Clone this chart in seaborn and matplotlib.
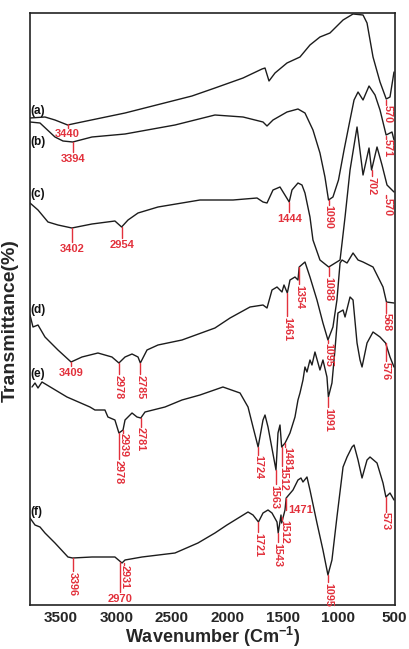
import matplotlib
matplotlib.use("Agg")
import matplotlib.pyplot as plt
import seaborn as sns
import pandas as pd

# ---- data (wavenumber cm-1, transmittance in arbitrary offset units) ----
wn_a = [3779, 3644, 3554, 3440, 3356, 2923, 2320, 2113, 1860, 1689, 1662, 1626, 1572, 1464, 1347, 1257,
        1167, 1077, 959, 869, 779, 743, 689, 626, 570, 536, 500]
t_a = [487, 488, 485, 480, 482, 492, 509, 517, 527, 536, 537, 524, 532, 542, 548, 560,
       568, 572, 585, 591, 590, 582, 548, 523, 506, 508, 533]

wn_b = [3779, 3689, 3554, 3482, 3394, 3221, 2923, 2473, 2113, 1860, 1680, 1644, 1590, 1464, 1365, 1302,
        1230, 1167, 1122, 1090, 1050, 1000, 950, 900, 860, 824, 779, 725, 671, 626, 571, 518, 500]
t_b = [483, 482, 468, 464, 463, 468, 471, 480, 490, 488, 483, 479, 485, 493, 496, 492,
       475, 452, 428, 405, 408, 425, 455, 483, 505, 513, 505, 519, 510, 495, 470, 473, 465]

wn_c = [3779, 3707, 3617, 3527, 3402, 3221, 3014, 2954, 2896, 2806, 2626, 2410, 2248, 1950, 1734, 1680,
        1644, 1590, 1527, 1444, 1419, 1365, 1329, 1302, 1257, 1230, 1167, 1088, 986, 968, 941, 896,
        833, 779, 725, 702, 653, 608, 563, 518, 500]
t_c = [402, 395, 383, 380, 377, 381, 384, 378, 385, 392, 398, 402, 405, 405, 407, 403,
       402, 415, 418, 403, 415, 422, 420, 412, 388, 365, 345, 338, 345, 362, 388, 435,
       478, 430, 457, 435, 458, 440, 420, 415, 413]

wn_d = [3779, 3752, 3707, 3644, 3527, 3409, 3311, 3167, 3041, 2978, 2923, 2860, 2806, 2785, 2725, 2626,
        2410, 2113, 1977, 1797, 1680, 1644, 1599, 1554, 1509, 1491, 1461, 1437, 1392, 1365, 1354, 1302,
        1257, 1194, 1140, 1095, 1050, 1014, 986, 968, 923, 869, 824, 779, 689, 599, 568, 500]
t_d = [290, 278, 280, 268, 255, 243, 248, 252, 248, 242, 248, 251, 248, 242, 255, 260,
       265, 277, 287, 298, 300, 297, 315, 318, 313, 320, 312, 325, 328, 325, 338, 343,
       328, 305, 282, 265, 278, 305, 342, 345, 342, 352, 345, 343, 338, 318, 303, 302]

wn_e = [3761, 3734, 3707, 3671, 3626, 3581, 3446, 3239, 3194, 3104, 3077, 3014, 2978, 2941, 2923, 2860,
        2815, 2781, 2743, 2563, 2410, 2248, 2041, 1887, 1815, 1770, 1724, 1680, 1662, 1635, 1563, 1545,
        1527, 1512, 1481, 1437, 1392, 1365, 1347, 1320, 1302, 1284, 1257, 1239, 1212, 1167, 1140, 1104,
        1091, 1059, 1032, 1005, 959, 941, 896, 869, 833, 806, 788, 743, 689, 626, 576, 536, 500]
t_e = [218, 222, 217, 223, 220, 217, 208, 198, 195, 195, 188, 185, 172, 175, 185, 192,
       188, 187, 193, 198, 205, 210, 218, 212, 198, 178, 158, 185, 190, 178, 135, 172,
       180, 158, 162, 172, 188, 205, 212, 225, 238, 233, 245, 240, 253, 235, 245, 228,
       208, 222, 255, 292, 295, 288, 308, 305, 262, 245, 238, 262, 273, 268, 262, 248, 238]

wn_f = [3779, 3734, 3689, 3644, 3554, 3437, 3396, 3221, 3014, 2950, 2923, 2770, 2473, 2266, 2113, 2005,
        1815, 1770, 1721, 1680, 1635, 1599, 1554, 1543, 1518, 1512, 1482, 1471, 1410, 1365, 1338, 1320,
        1284, 1257, 1194, 1140, 1095, 1059, 1014, 959, 923, 878, 860, 824, 788, 743, 716, 653, 599,
        573, 536, 500]
t_f = [87, 80, 78, 72, 62, 48, 47, 48, 48, 42, 45, 48, 52, 62, 72, 80,
       93, 90, 83, 92, 95, 92, 83, 72, 90, 82, 95, 107, 115, 125, 127, 123,
       128, 115, 82, 55, 30, 45, 88, 138, 148, 158, 160, 145, 127, 145, 148, 142, 122,
       108, 112, 105]

curve_names = ["(a)", "(b)", "(c)", "(d)", "(e)", "(f)"]
curve_label_y = [494, 463, 411, 295, 231, 93]

# peak annotations: label, wavenumber, line start, line end, text anchor, style, text wavenumber
ann_a = [("3440", 3440, 481, 477, 476, "h", 3440), ("570", 570, 505, 500, 500, "v", 560)]
ann_b = [("3394", 3394, 463, 453, 451, "h", 3394), ("571", 571, 469, 466, 466, "v", 560),
         ("1090", 1090, 405, 400, 400, "v", 1090)]
ann_c = [("3402", 3402, 377, 363, 361, "h", 3402), ("2954", 2954, 378, 367, 365, "h", 2954),
         ("1444", 1444, 403, 393, 391, "h", 1444), ("1088", 1088, 338, 329, 328, "v", 1088),
         ("702", 702, 435, 429, 428, "v", 702), ("570", 570, 410, 407, 407, "v", 560)]
ann_d = [("3409", 3409, 243, 239, 237, "h", 3409), ("2978", 2978, 242, 231, 230, "v", 2978),
         ("2785", 2785, 242, 231, 230, "v", 2785), ("1461", 1461, 312, 289, 288, "v", 1461),
         ("1354", 1354, 338, 321, 320, "v", 1354), ("1095", 1095, 265, 262, 262, "v", 1095),
         ("568", 568, 303, 292, 292, "v", 568)]
ann_e = [("2978", 2978, 172, 146, 145, "v", 2978), ("2939", 2939, 175, 172, 172, "v", 2939),
         ("2781", 2781, 187, 178, 178, "v", 2781), ("1724", 1724, 158, 150, 150, "v", 1724),
         ("1563", 1563, 135, 121, 120, "v", 1578), ("1512", 1512, 158, 139, 138, "v", 1500),
         ("1481", 1481, 162, 158, 158, "v", 1462), ("1091", 1091, 208, 198, 197, "v", 1091),
         ("576", 576, 262, 244, 243, "v", 576)]
ann_f = [("3396", 3396, 47, 34, 33, "v", 3396), ("2931", 2931, 42, 40, 40, "v", 2925),
         ("2970", 2970, 43, 13, 11, "h", 2970), ("1721", 1721, 83, 73, 72, "v", 1721),
         ("1543", 1543, 72, 63, 62, "v", 1552), ("1512", 1512, 88, 85, 85, "v", 1486),
         ("1471", 1471, 107, 95, 95, "l", 1456), ("1095", 1095, 30, 23, 22, "v", 1095),
         ("573", 573, 108, 93, 93, "v", 573)]

xticks = [3500, 3000, 2500, 2000, 1500, 1000, 500]

# ---- plotting ----
sns.set_theme(style="white")
plt.rcParams["font.family"] = ["Liberation Sans", "DejaVu Sans"]
plt.rcParams["mathtext.fontset"] = "custom"
plt.rcParams["mathtext.rm"] = "Liberation Sans"
plt.rcParams["mathtext.bf"] = "Liberation Sans:bold"

fig = plt.figure(figsize=(4.09, 6.49), dpi=100)
ax = fig.add_axes([30 / 409, 1 - 605 / 649, 365 / 409, 592 / 649])

curves = [(wn_a, t_a), (wn_b, t_b), (wn_c, t_c), (wn_d, t_d), (wn_e, t_e), (wn_f, t_f)]
for wn, t in curves:
    df = pd.DataFrame({"wavenumber": wn, "T": t})
    sns.lineplot(data=df, x="wavenumber", y="T", ax=ax, estimator=None,
                 color="#1c1c1c", lw=1.0)

red = "#e2313c"
for anns in [ann_a, ann_b, ann_c, ann_d, ann_e, ann_f]:
    for lab, w, y0, y1, ty, style, tx in anns:
        ax.plot([w, w], [y0, y1], color=red, lw=1.0)
        if style == "h":
            ax.text(tx, ty, lab, color=red, fontsize=8, fontweight="bold",
                    ha="center", va="top")
        elif style == "l":
            ax.text(tx, ty, lab, color=red, fontsize=8, fontweight="bold",
                    ha="left", va="center")
        else:
            ax.text(tx, ty, lab, color=red, fontsize=7.8, fontweight="bold",
                    ha="center", va="top", rotation=270)

for name, y in zip(curve_names, curve_label_y):
    ax.text(3772, y, name, fontsize=8.5, fontweight="bold", ha="left", va="center",
            color="#111111")

ax.set_xlim(3779, 491)
ax.set_ylim(0, 592)
ax.set_xticks(xticks)
ax.set_xticklabels([str(v) for v in xticks], fontsize=11, fontweight="bold")
ax.set_yticks([])
ax.tick_params(axis="x", length=0, pad=4)
ax.set_xlabel(r"Wavenumber (Cm$^{\mathbf{-1}}$)", fontsize=13, fontweight="bold", labelpad=0)
ax.set_ylabel("Transmittance(%)", fontsize=14, fontweight="bold", labelpad=3)
ax.yaxis.set_label_coords(-0.032, 0.48)
for sp in ax.spines.values():
    sp.set_color("#222222")
    sp.set_linewidth(1.2)

fig.savefig("out.png", dpi=100, facecolor="white")
